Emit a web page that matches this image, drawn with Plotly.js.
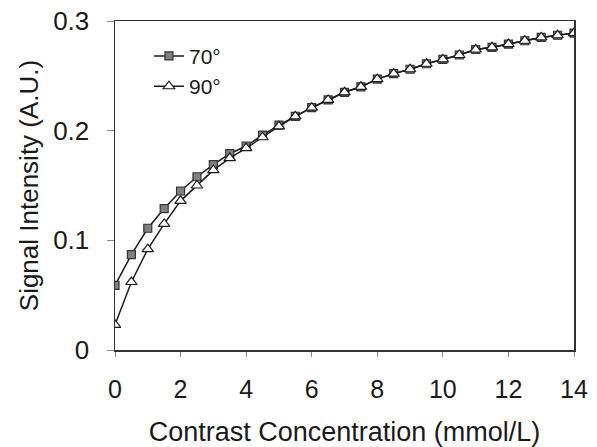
<!DOCTYPE html>
<html>
<head>
<meta charset="utf-8">
<script src="https://cdn.plot.ly/plotly-3.0.1.min.js"></script>
<style>html,body{margin:0;padding:0;background:#fff;}#chart{width:597px;height:447px;}</style>
</head>
<body>
<div id="chart"></div>
<script>
const concentration = [0, 0.5, 1, 1.5, 2, 2.5, 3, 3.5, 4, 4.5, 5, 5.5, 6, 6.5, 7, 7.5, 8, 8.5, 9, 9.5, 10, 10.5, 11, 11.5, 12, 12.5, 13, 13.5, 14];
const signal70 = [0.059, 0.087, 0.111, 0.129, 0.145, 0.158, 0.169, 0.179, 0.186, 0.196, 0.205, 0.213, 0.221, 0.228, 0.235, 0.240, 0.247, 0.252, 0.256, 0.261, 0.265, 0.269, 0.274, 0.276, 0.279, 0.282, 0.285, 0.287, 0.289];
const signal90 = [0.023, 0.062, 0.092, 0.115, 0.136, 0.150, 0.164, 0.175, 0.184, 0.194, 0.204, 0.213, 0.221, 0.228, 0.235, 0.240, 0.247, 0.252, 0.256, 0.261, 0.265, 0.269, 0.274, 0.276, 0.279, 0.282, 0.285, 0.287, 0.289];
const seriesNames = ["70°", "90°"];
const xTickVals = [0, 2, 4, 6, 8, 10, 12, 14];
const yTickVals = [0, 0.1, 0.2, 0.3];
const yTickText = ["0", "0.1", "0.2", "0.3"];

const fam = "Liberation Sans, Arial, sans-serif";
const col = "#1a1a1a";

const traces = [
  {
    x: concentration, y: signal70, name: seriesNames[0], type: "scatter", mode: "lines+markers",
    legendgroup: "a",
    line: {color: col, width: 1.5},
    marker: {symbol: "square", size: 8, color: "#808080", line: {color: "#333", width: 1.2}}
  },
  {
    x: concentration, y: signal90, name: seriesNames[1], type: "scatter", mode: "lines+markers",
    legendgroup: "b",
    line: {color: col, width: 1.5},
    marker: {symbol: "triangle-up", size: 10, color: "#ffffff", line: {color: col, width: 1.2}}
  }
];

const layout = {
  width: 597, height: 447,
  margin: {l: 115, r: 23, t: 21, b: 97},
  paper_bgcolor: "#fff", plot_bgcolor: "#fff",
  font: {family: fam, size: 25, color: col},
  showlegend: true,
  legend: {x: 0.074, y: 0.955, xanchor: "left", yanchor: "top", bgcolor: "rgba(0,0,0,0)",
           font: {family: fam, size: 21, color: col}, tracegroupgap: 0, itemwidth: 30},
  xaxis: {
    range: [0, 14], tickvals: xTickVals, ticks: "outside", ticklen: 5, tickcolor: "#888",
    showline: true, linecolor: "#333", linewidth: 1.5, mirror: true, showgrid: false, zeroline: false,
    tickfont: {family: fam, size: 25, color: col},
    ticklabelstandoff: 11,
    title: {text: "Contrast Concentration (mmol/L)", font: {family: fam, size: 27, color: col}, standoff: 20}
  },
  yaxis: {
    range: [0, 0.3], tickvals: yTickVals, ticktext: yTickText, ticks: "outside", ticklen: 7, tickcolor: "#888",
    showline: true, linecolor: "#333", linewidth: 1.5, mirror: true, showgrid: false, zeroline: false,
    tickfont: {family: fam, size: 26, color: col},
    ticklabelstandoff: 12,
    title: {text: "Signal Intensity (A.U.)", font: {family: fam, size: 26, color: col}, standoff: 7}
  }
};

Plotly.newPlot("chart", traces, layout, {displayModeBar: false, staticPlot: true});
</script>
</body>
</html>
